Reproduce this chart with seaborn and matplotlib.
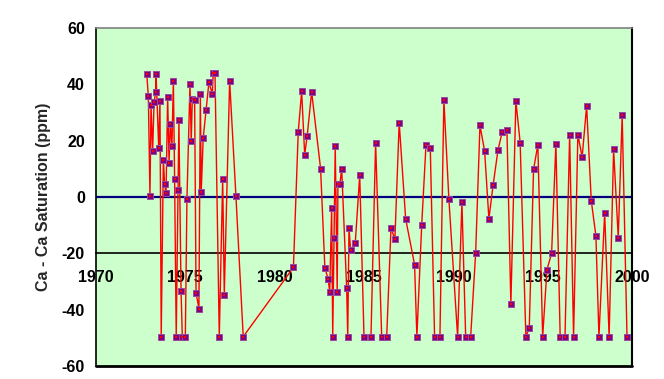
import matplotlib
matplotlib.use("Agg")
import matplotlib.pyplot as plt
import seaborn as sns
import pandas as pd

years = [
    1972.84, 1972.93, 1973.02, 1973.08, 1973.17, 1973.25, 1973.34, 1973.36, 1973.51, 1973.58,
    1973.65, 1973.77, 1973.84, 1973.92, 1974.01, 1974.09, 1974.16, 1974.25, 1974.33, 1974.40,
    1974.49, 1974.59, 1974.64, 1974.76, 1974.83, 1975.00, 1975.09, 1975.26, 1975.33, 1975.39,
    1975.52, 1975.60, 1975.76, 1975.84, 1975.89, 1976.00, 1976.16, 1976.32, 1976.51, 1976.56,
    1976.66, 1976.90, 1977.09, 1977.18, 1977.48, 1977.83, 1978.24,
    1981.05, 1981.32, 1981.51, 1981.68, 1981.82, 1982.07, 1982.57, 1982.81, 1983.00, 1983.08,
    1983.19, 1983.25, 1983.32, 1983.39, 1983.50, 1983.54, 1983.65, 1983.75, 1984.03, 1984.09,
    1984.16, 1984.25, 1984.51, 1984.76, 1985.00, 1985.39, 1985.65, 1985.99, 1986.27, 1986.51,
    1986.73, 1986.97, 1987.33, 1987.83, 1987.96, 1988.23, 1988.47, 1988.71,
    1988.95, 1989.25, 1989.47, 1989.75, 1990.24, 1990.48, 1990.69, 1990.97, 1991.25, 1991.49,
    1991.75, 1991.99, 1992.23, 1992.50, 1992.74, 1993.00, 1993.22, 1993.50, 1993.74, 1994.06,
    1994.25, 1994.49, 1994.73, 1995.00, 1995.24, 1995.50, 1995.74, 1995.98, 1996.25, 1996.51,
    1996.73, 1996.97, 1997.21, 1997.46, 1997.72, 1997.98, 1998.15, 1998.47, 1998.72, 1998.97,
    1999.23, 1999.45, 1999.72,
]

ca_minus_sat = [
    43.7, 35.7, 0.4, 32.5, 16.2, 33.7, 37.2, 43.7, 17.4, 34.0,
    -49.6, 13.2, 4.5, 1.3, 35.6, 12.2, 26.0, 18.2, 41.1, 6.4,
    -49.6, 2.6, 27.2, -33.3, -49.6, -49.6, -0.8, 40.1, 19.9, 34.8,
    34.4, -34.0, -39.6, 36.7, 1.9, 20.9, 30.8, 40.7, 36.7, 44.1,
    44.0, -49.6, 6.4, -34.7, 41.2, 0.5, -49.6,
    -25.0, 23.2, 37.5, 15.0, 21.7, 37.3, 10.1, -25.2, -29.2, -33.8,
    -3.8, -49.6, -14.7, 18.0, -33.8, 4.5, 4.5, 10.1, -32.4, -49.6,
    -11.1, -18.8, -16.4, 7.7, -49.6, -49.6, 19.2, -49.6, -49.6, -11.1,
    -14.9, 26.4, -7.7, -24.0, -49.6, -9.9, 18.5, 17.3,
    -49.6, -49.6, 34.5, -0.6, -49.6, -1.8, -49.6, -49.6, -19.8, 25.4,
    16.4, -7.7, 4.4, 16.7, 23.2, 23.8, -37.9, 34.1, 19.3, -49.6,
    -46.5, 9.8, 18.5, -49.6, -25.8, -20.0, 18.9, -49.6, -49.6, 22.1,
    -49.6, 22.1, 14.2, 32.3, -1.3, -13.8, -49.6, -5.6, -49.6, 16.9,
    -14.4, 29.1, -49.6,
]

x_ticks = [1970, 1975, 1980, 1985, 1990, 1995, 2000]
y_ticks = [-60, -40, -20, 0, 20, 40, 60]
y_label = "Ca - Ca Saturation (ppm)"

df = pd.DataFrame({"year": years, "value": ca_minus_sat})

sns.set_style("white")
plt.rcParams["font.family"] = ["Liberation Sans", "DejaVu Sans"]

fig = plt.figure(figsize=(6.64, 3.79), dpi=100)
ax = fig.add_axes([96 / 664, 1 - 366 / 379, (632 - 96) / 664, (366 - 28) / 379])
ax.set_facecolor("#CCFFCC")

ax.axhline(0, color="#000080", lw=1.6, zorder=2)

sns.lineplot(data=df, x="year", y="value", ax=ax, sort=False, color="#FF0000",
             lw=1.0, marker="s", markersize=4.5, markerfacecolor="#800080",
             markeredgecolor="#9a4a9a", markeredgewidth=0.7, zorder=3)
sns.scatterplot(data=df, x="year", y="value", ax=ax, color="#FF0000", s=2.5,
                linewidth=0, marker="s", zorder=4)

ax.set_xlim(1970, 2000)
ax.set_ylim(-60, 60)

ax.spines["bottom"].set_position(("data", -20))
ax.spines["bottom"].set_color("black")
ax.spines["bottom"].set_linewidth(1.2)
ax.spines["left"].set_color("black")
ax.spines["left"].set_linewidth(1.2)
ax.spines["top"].set_color("#808080")
ax.spines["top"].set_linewidth(1.2)
ax.spines["right"].set_color("black")
ax.spines["right"].set_linewidth(1.5)
ax.axhline(-60, color="black", lw=2.0, clip_on=False, zorder=5)

ax.set_xticks(x_ticks)
ax.set_xticklabels([str(t) for t in x_ticks], fontweight="bold", fontsize=11.5)
ax.set_yticks(y_ticks)
ax.set_yticklabels([str(t) for t in y_ticks], fontweight="bold", fontsize=11.5)
ax.tick_params(axis="x", direction="out", length=4, width=1.2, pad=8, colors="black")
ax.tick_params(axis="y", direction="out", length=5, width=1.0, pad=3, colors="black")

ax.set_xlabel("")
ax.set_ylabel(y_label, fontweight="bold", fontsize=11.5, labelpad=8)

fig.savefig("out.png", dpi=100, facecolor="white")
